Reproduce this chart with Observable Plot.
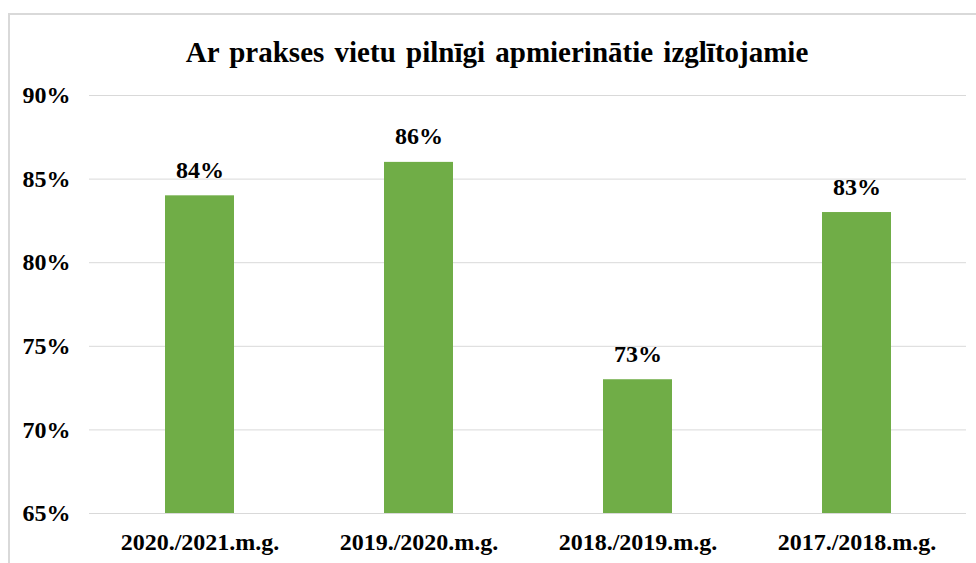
<!DOCTYPE html>
<html>
<head>
<meta charset="utf-8">
<script src="https://cdn.jsdelivr.net/npm/d3@7"></script>
<script src="https://cdn.jsdelivr.net/npm/@observablehq/plot@0.6"></script>
<style>
  html, body { margin: 0; padding: 0; background: #fff; overflow: hidden; }
  #wrap { position: relative; width: 976px; height: 563px; overflow: hidden; }
  #frame { position: absolute; left: 8px; top: 13px; width: 1000px; height: 600px; border: 2px solid #d9d9d9; box-sizing: border-box; }
  #title { position: absolute; left: 0; top: 35px; width: 994px; text-align: center;
           font-family: "Liberation Serif", "Times New Roman", serif; font-weight: bold; font-size: 29px; line-height: 34px; color: #000; word-spacing: 3px; }
  #chart { position: absolute; left: 0; top: 0; }
  #chart svg text { font-family: "Liberation Serif", "Times New Roman", serif; }
</style>
</head>
<body>
<div id="wrap">
  <div id="frame"></div>
  <div id="title">Ar prakses vietu pilnīgi apmierinātie izglītojamie</div>
  <div id="chart"></div>
</div>
<script>
const categories = ["2020./2021.m.g.", "2019./2020.m.g.", "2018./2019.m.g.", "2017./2018.m.g."];
const values = [84, 86, 73, 83];
const yTicks = [65, 70, 75, 80, 85, 90];
const yMin = 65, yMax = 90;

const data = categories.map((c, i) => ({category: c, value: values[i]}));
const font = '"Liberation Serif", "Times New Roman", serif';

const chart = Plot.plot({
  width: 976,
  height: 563,
  marginLeft: 89,
  marginRight: 10,
  marginTop: 95,
  marginBottom: 50,
  style: {fontFamily: font, fontSize: "24px", fontWeight: "bold", color: "#000", background: "transparent", overflow: "visible"},
  x: {domain: categories, paddingInner: 0.686, paddingOuter: 0.343, label: null},
  y: {domain: [yMin, yMax], ticks: yTicks, label: null},
  marks: [
    Plot.gridY(yTicks, {stroke: "#d9d9d9", strokeOpacity: 1, strokeWidth: 1}),
    Plot.barY(data, {x: "category", y1: yMin, y2: "value", fill: "#70AD47"}),
    Plot.text(data, {x: "category", y: "value", text: d => d.value + "%", lineAnchor: "bottom", dy: -18, fontFamily: font, fontSize: 24, fontWeight: "bold", fill: "#000"}),
    Plot.axisY(yTicks, {tickSize: 0, tickPadding: 19, tickFormat: d => d + "%", fontFamily: font, fontSize: 24, fontWeight: "bold", label: null}),
    Plot.axisX({tickSize: 0, tickPadding: 19, fontFamily: font, fontSize: 24, fontWeight: "bold", label: null})
  ]
});
document.getElementById("chart").appendChild(chart);
</script>
</body>
</html>
